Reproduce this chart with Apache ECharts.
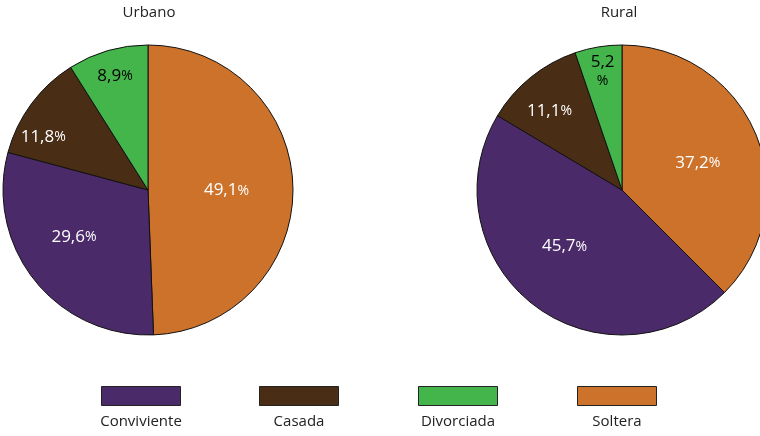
<!DOCTYPE html>
<html>
<head>
<meta charset="utf-8">
<script src="https://cdn.jsdelivr.net/npm/echarts@6/dist/echarts.min.js"></script>
<style>
  html, body { margin: 0; padding: 0; background: #fff; }
  #chart { width: 760px; height: 436px; }
</style>
</head>
<body>
<div id="chart"></div>
<script>
// categories in clockwise slice order (starting at 12 o'clock)
var categories = ['Soltera', 'Conviviente', 'Casada', 'Divorciada'];
// legend order
var legendOrder = ['Conviviente', 'Casada', 'Divorciada', 'Soltera'];
var urbanoValues = [49.1, 29.6, 11.8, 8.9];
var ruralValues = [37.2, 45.7, 11.1, 5.2];
var pieTitles = ['Urbano', 'Rural'];

var colors = {
  Soltera: '#cd722b',
  Conviviente: '#4b2a69',
  Casada: '#4a2d15',
  Divorciada: '#43b54b'
};
var labelColors = {
  Soltera: '#fff',
  Conviviente: '#fff',
  Casada: '#fff',
  Divorciada: '#000'
};
// nudges to move the labels where the original placed them
var urbanoOffsets = [[3, 2], [-15, 0], [-44, -8], [-12, -41]];
var ruralOffsets = [[6, 2], [-11, -3], [-25, -20], [-7, -44]];

var fontFamily = '"Open Sans", "Noto Sans", sans-serif';

function fmt(v) {
  return String(v).replace('.', ',');
}

function buildData(values, offsets) {
  return categories.map(function (name, i) {
    return {
      name: name,
      value: values[i],
      itemStyle: { color: colors[name] },
      label: { color: labelColors[name], offset: offsets[i] }
    };
  });
}

function pieSeries(values, offsets, center) {
  return {
    type: 'pie',
    center: center,
    radius: 145,
    startAngle: 90,
    clockwise: true,
    silent: true,
    data: buildData(values, offsets),
    itemStyle: { borderColor: '#111', borderWidth: 1 },
    label: {
      show: true,
      position: 'inside',
      fontFamily: fontFamily,
      formatter: function (p) {
        if (p.value < 6) return '{v|' + fmt(p.value) + '}\n{p|%}';
        return '{v|' + fmt(p.value) + '}{p|%}';
      },
      rich: {
        v: { fontSize: 17, fontFamily: fontFamily, lineHeight: 18 },
        p: { fontSize: 14, fontFamily: fontFamily, lineHeight: 18 }
      }
    },
    labelLine: { show: false },
    emphasis: { disabled: true }
  };
}

var legendLeft = [101, 259, 418, 577];
var legends = legendOrder.map(function (name, i) {
  return {
    data: [name],
    left: legendLeft[i],
    top: 386,
    icon: 'rect',
    itemWidth: 79,
    itemHeight: 19,
    padding: 0,
    selectedMode: false,
    itemStyle: { borderColor: '#222', borderWidth: 1 },
    formatter: function () { return ''; }
  };
});
var legendTitles = legendOrder.map(function (name, i) {
  return {
    text: name,
    left: legendLeft[i] + 40,
    top: 414,
    textAlign: 'center',
    padding: 0,
    textStyle: { fontFamily: fontFamily, fontSize: 15, fontWeight: 'normal', color: '#222' }
  };
});

var titleCenters = [149, 619];
var pieTitleItems = pieTitles.map(function (t, i) {
  return {
    text: t,
    left: titleCenters[i],
    top: 5,
    textAlign: 'center',
    padding: 0,
    textStyle: { fontFamily: fontFamily, fontSize: 15, fontWeight: 'normal', color: '#222' }
  };
});

var chart = echarts.init(document.getElementById('chart'), null, { renderer: 'canvas' });
chart.setOption({
  animation: false,
  backgroundColor: '#fff',
  title: pieTitleItems.concat(legendTitles),
  legend: legends,
  series: [
    pieSeries(urbanoValues, urbanoOffsets, [148, 190]),
    pieSeries(ruralValues, ruralOffsets, [622, 190])
  ]
});
</script>
</body>
</html>
